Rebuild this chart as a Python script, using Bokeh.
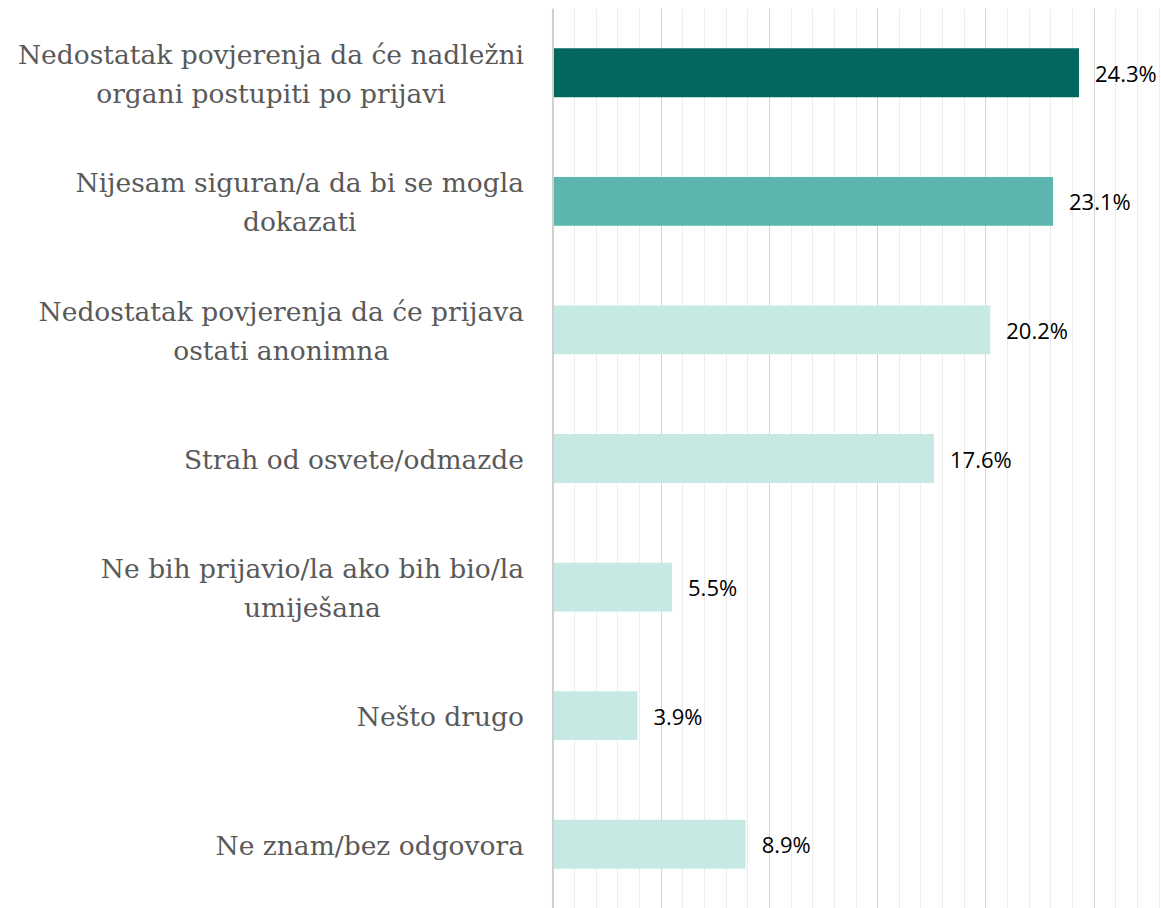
from bokeh.plotting import figure
from bokeh.models import ColumnDataSource, Range1d, FactorRange, Grid, SingleIntervalTicker, Span
from bokeh.core.properties import value
from bokeh.embed import file_html
from bokeh.resources import INLINE

categories = [
    "Nedostatak povjerenja da će nadležni\norgani postupiti po prijavi",
    "Nijesam siguran/a da bi se mogla\ndokazati",
    "Nedostatak povjerenja da će prijava\nostati anonimna",
    "Strah od osvete/odmazde",
    "Ne bih prijavio/la ako bih bio/la\numiješana",
    "Nešto drugo",
    "Ne znam/bez odgovora",
]
values = [24.3, 23.1, 20.2, 17.6, 5.5, 3.9, 8.9]
bar_colors = ["#036760", "#5db6ae", "#c6eae3", "#c6eae3", "#c6eae3", "#c6eae3", "#c6eae3"]

src = ColumnDataSource(dict(
    cat=categories,
    val=values,
    color=bar_colors,
    lbl=[f"{v}%" for v in values],
    zero=[0] * len(values),
))

p = figure(
    width=1161, height=908,
    x_range=Range1d(-25.52, 28.11),
    y_range=FactorRange(factors=list(reversed(categories)), range_padding=0),
    x_axis_location=None, y_axis_location=None,
    output_backend="svg", toolbar_location=None,
    min_border=0, min_border_top=8, outline_line_color=None,
    background_fill_color="#ffffff", border_fill_color="#ffffff",
)
for g in p.grid:
    g.visible = False

grid = Grid(
    dimension=0,
    ticker=SingleIntervalTicker(interval=5, num_minor_ticks=5),
    bounds=(0, 30),
    grid_line_color="#d4d4d4",
    minor_grid_line_color="#ececec",
)
p.add_layout(grid)
p.add_layout(Span(location=0, dimension="height", line_color="#d0d0d0", line_width=2))

p.hbar(y="cat", left="zero", right="val", height=0.38, fill_color="color", line_color=None, source=src)

p.text(x="val", y="cat", text="lbl", x_offset=16, source=src,
       text_font=value("Open Sans"), text_font_size="22px", text_color="#000000",
       text_align="left", text_baseline="middle")

p.text(x="zero", y="cat", text="cat", x_offset=-29, y_offset=1, source=src,
       text_font=value("DejaVu Serif"), text_font_size="26.5px", text_color="#595959",
       text_align="center", anchor="center_right", text_baseline="middle",
       text_line_height=1.25)

open("out.html", "w").write(file_html(p, INLINE))
